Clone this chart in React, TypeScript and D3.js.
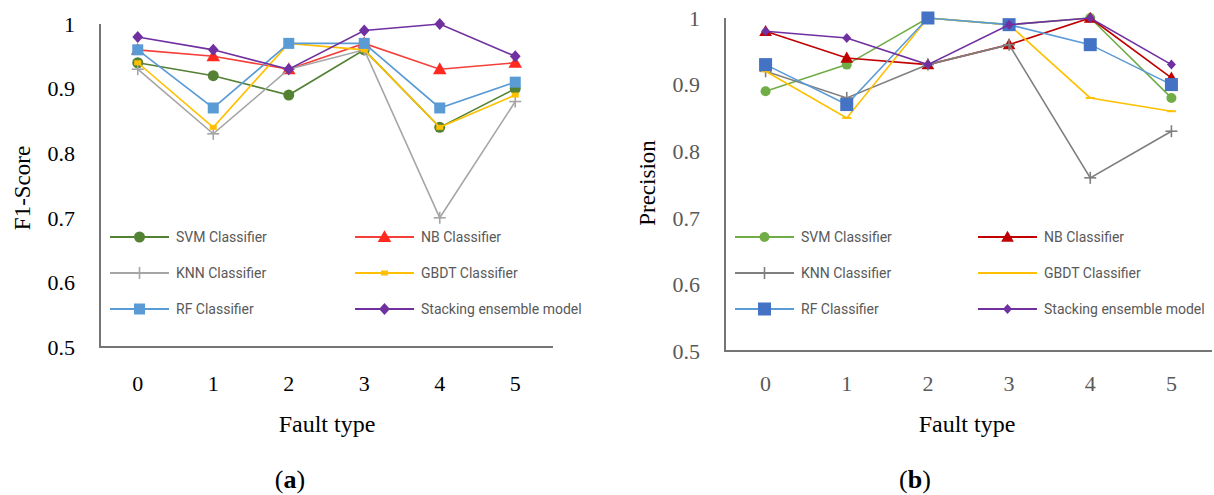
import * as d3 from 'd3';

// fault types on the x axis
const faultTypes = ['0', '1', '2', '3', '4', '5'];
const yTicks = [0.5, 0.6, 0.7, 0.8, 0.9, 1];

const seriesNames = ['SVM Classifier', 'NB Classifier', 'KNN Classifier', 'GBDT Classifier', 'RF Classifier', 'Stacking ensemble model'];

// (a) F1-Score
const f1Svm = [0.94, 0.92, 0.89, 0.96, 0.84, 0.90];
const f1Nb = [0.96, 0.95, 0.93, 0.97, 0.93, 0.94];
const f1Knn = [0.93, 0.83, 0.93, 0.96, 0.70, 0.88];
const f1Gbdt = [0.94, 0.84, 0.97, 0.96, 0.84, 0.89];
const f1Rf = [0.96, 0.87, 0.97, 0.97, 0.87, 0.91];
const f1Stack = [0.98, 0.96, 0.93, 0.99, 1.00, 0.95];

// (b) Precision
const precSvm = [0.89, 0.93, 1.00, 0.99, 1.00, 0.88];
const precNb = [0.98, 0.94, 0.93, 0.96, 1.00, 0.91];
const precKnn = [0.92, 0.88, 0.93, 0.96, 0.76, 0.83];
const precGbdt = [0.92, 0.85, 1.00, 0.99, 0.88, 0.86];
const precRf = [0.93, 0.87, 1.00, 0.99, 0.96, 0.90];
const precStack = [0.98, 0.97, 0.93, 0.99, 1.00, 0.93];

type MarkerKind = 'circle' | 'triangle' | 'plus' | 'rect' | 'dash' | 'square' | 'diamond';

interface Series {
  name: string;
  values: number[];
  line: string;
  fill: string;
  marker: MarkerKind;
  size: number;
}

const leftSeries: Series[] = [
  { name: seriesNames[0], values: f1Svm, line: '#548235', fill: '#548235', marker: 'circle', size: 5.5 },
  { name: seriesNames[1], values: f1Nb, line: '#F5403A', fill: '#FF2A1F', marker: 'triangle', size: 80 },
  { name: seriesNames[2], values: f1Knn, line: '#A5A5A5', fill: '#A5A5A5', marker: 'plus', size: 6 },
  { name: seriesNames[3], values: f1Gbdt, line: '#FFC000', fill: '#FFC000', marker: 'rect', size: 7 },
  { name: seriesNames[4], values: f1Rf, line: '#5B9BD5', fill: '#5B9BD5', marker: 'square', size: 11 },
  { name: seriesNames[5], values: f1Stack, line: '#7030A0', fill: '#7030A0', marker: 'diamond', size: 6 },
];

const rightSeries: Series[] = [
  { name: seriesNames[0], values: precSvm, line: '#70AD47', fill: '#70AD47', marker: 'circle', size: 5 },
  { name: seriesNames[1], values: precNb, line: '#C00000', fill: '#C00000', marker: 'triangle', size: 70 },
  { name: seriesNames[2], values: precKnn, line: '#7F7F7F', fill: '#7F7F7F', marker: 'plus', size: 6 },
  { name: seriesNames[3], values: precGbdt, line: '#FFC000', fill: '#FFC000', marker: 'dash', size: 9 },
  { name: seriesNames[4], values: precRf, line: '#5B9BD5', fill: '#4472C4', marker: 'square', size: 13 },
  { name: seriesNames[5], values: precStack, line: '#7030A0', fill: '#7030A0', marker: 'diamond', size: 5 },
];

const SERIF = '"Liberation Serif", "DejaVu Serif", serif';
const SANS = 'Roboto, "Noto Sans", sans-serif';

function Marker({ s, x, y }: { s: Series; x: number; y: number }) {
  switch (s.marker) {
    case 'circle':
      return <circle cx={x} cy={y} r={s.size} fill={s.fill} />;
    case 'triangle':
      return <path transform={`translate(${x},${y + 1})`} d={d3.symbol(d3.symbolTriangle, s.size)() || ''} fill={s.fill} />;
    case 'diamond': {
      const w = s.size * 0.9, h = s.size;
      return <path d={`M${x},${y - h}L${x + w},${y}L${x},${y + h}L${x - w},${y}Z`} fill={s.fill} />;
    }
    case 'square':
      return <rect x={x - s.size / 2} y={y - s.size / 2} width={s.size} height={s.size} fill={s.fill} />;
    case 'rect':
      return <rect x={x - s.size / 2} y={y - 2.5} width={s.size} height={5} fill={s.fill} />;
    case 'dash':
      return <rect x={x - s.size / 2} y={y - 1} width={s.size} height={2} fill={s.fill} />;
    case 'plus':
      return (
        <g stroke={s.fill} strokeWidth={1.6}>
          <line x1={x - s.size} x2={x + s.size} y1={y} y2={y} />
          <line x1={x} x2={x} y1={y - s.size} y2={y + s.size} />
        </g>
      );
  }
  return null;
}

interface PanelProps {
  series: Series[];
  left: number;
  right: number;
  top: number;
  bottom: number;
  tickColor: string;
  yLabel: string;
  yLabelX: number;
  yLabelY: number;
  xLabelX: number;
  tag: string;
  tagX: number;
  legendCols: number[];
}

function Panel(p: PanelProps) {
  const x = d3.scaleBand<string>().domain(faultTypes).range([p.left, p.right]);
  const y = d3.scaleLinear().domain([0.5, 1]).range([p.bottom, p.top]);
  const cx = (d: string) => (x(d) ?? 0) + x.bandwidth() / 2;
  const line = d3.line<number>().x((_, i) => cx(faultTypes[i])).y((v) => y(v));
  const legendRows = [237, 273, 309];

  return (
    <g>
      {/* axes */}
      <path d={`M${p.left},${p.top}V${p.bottom}H${p.right}`} fill="none" stroke="#757575" strokeWidth={2} />
      {yTicks.map((t) => (
        <text key={t} x={p.left - 25} y={y(t)} dy="0.35em" textAnchor="end" fontFamily={SERIF} fontSize={22} fill={p.tickColor}>
          {d3.format('~g')(t)}
        </text>
      ))}
      {faultTypes.map((f) => (
        <text key={f} x={cx(f)} y={383} dy="0.35em" textAnchor="middle" fontFamily={SERIF} fontSize={22} fill={p.tickColor}>
          {f}
        </text>
      ))}
      <text transform={`translate(${p.yLabelX},${p.yLabelY}) rotate(-90)`} textAnchor="middle" dy="0.35em" fontFamily={SERIF} fontSize={23} fill="#000">
        {p.yLabel}
      </text>
      <text x={p.xLabelX} y={424} dy="0.35em" textAnchor="middle" fontFamily={SERIF} fontSize={24} fill="#000">
        Fault type
      </text>
      <text x={p.tagX} y={479} dy="0.35em" textAnchor="middle" fontFamily={SERIF} fontSize={26} fill="#000">
        (<tspan fontWeight="bold">{p.tag}</tspan>)
      </text>

      {/* series */}
      {p.series.map((s) => (
        <g key={s.name}>
          <path d={line(s.values) || ''} fill="none" stroke={s.line} strokeWidth={1.6} />
          {s.values.map((v, i) => (
            <Marker key={i} s={s} x={cx(faultTypes[i])} y={y(v)} />
          ))}
        </g>
      ))}

      {/* legend */}
      {p.series.map((s, i) => {
        const lx = p.legendCols[i % 2];
        const ly = legendRows[Math.floor(i / 2)];
        return (
          <g key={'lg' + s.name}>
            <line x1={lx} x2={lx + 59} y1={ly} y2={ly} stroke={s.line} strokeWidth={2} />
            <Marker s={s} x={lx + 29.5} y={ly} />
            <text x={lx + 66} y={ly} dy="0.35em" fontFamily={SANS} fontSize={14} fill="#595959">
              {s.name}
            </text>
          </g>
        );
      })}
    </g>
  );
}

export default function App() {
  return (
    <svg width={1214} height={495} viewBox="0 0 1214 495" style={{ position: 'absolute', left: 0, top: 0, background: '#fff' }}>
      <rect width={1214} height={495} fill="#fff" />
      <Panel
        series={leftSeries}
        left={100}
        right={553}
        top={24}
        bottom={347}
        tickColor="#000"
        yLabel="F1-Score"
        yLabelX={22}
        yLabelY={188}
        xLabelX={327}
        tag="a"
        tagX={290}
        legendCols={[110, 355]}
      />
      <Panel
        series={rightSeries}
        left={725}
        right={1212}
        top={18}
        bottom={351}
        tickColor="#595959"
        yLabel="Precision"
        yLabelX={647}
        yLabelY={183}
        xLabelX={967}
        tag="b"
        tagX={915}
        legendCols={[735, 978]}
      />
    </svg>
  );
}
